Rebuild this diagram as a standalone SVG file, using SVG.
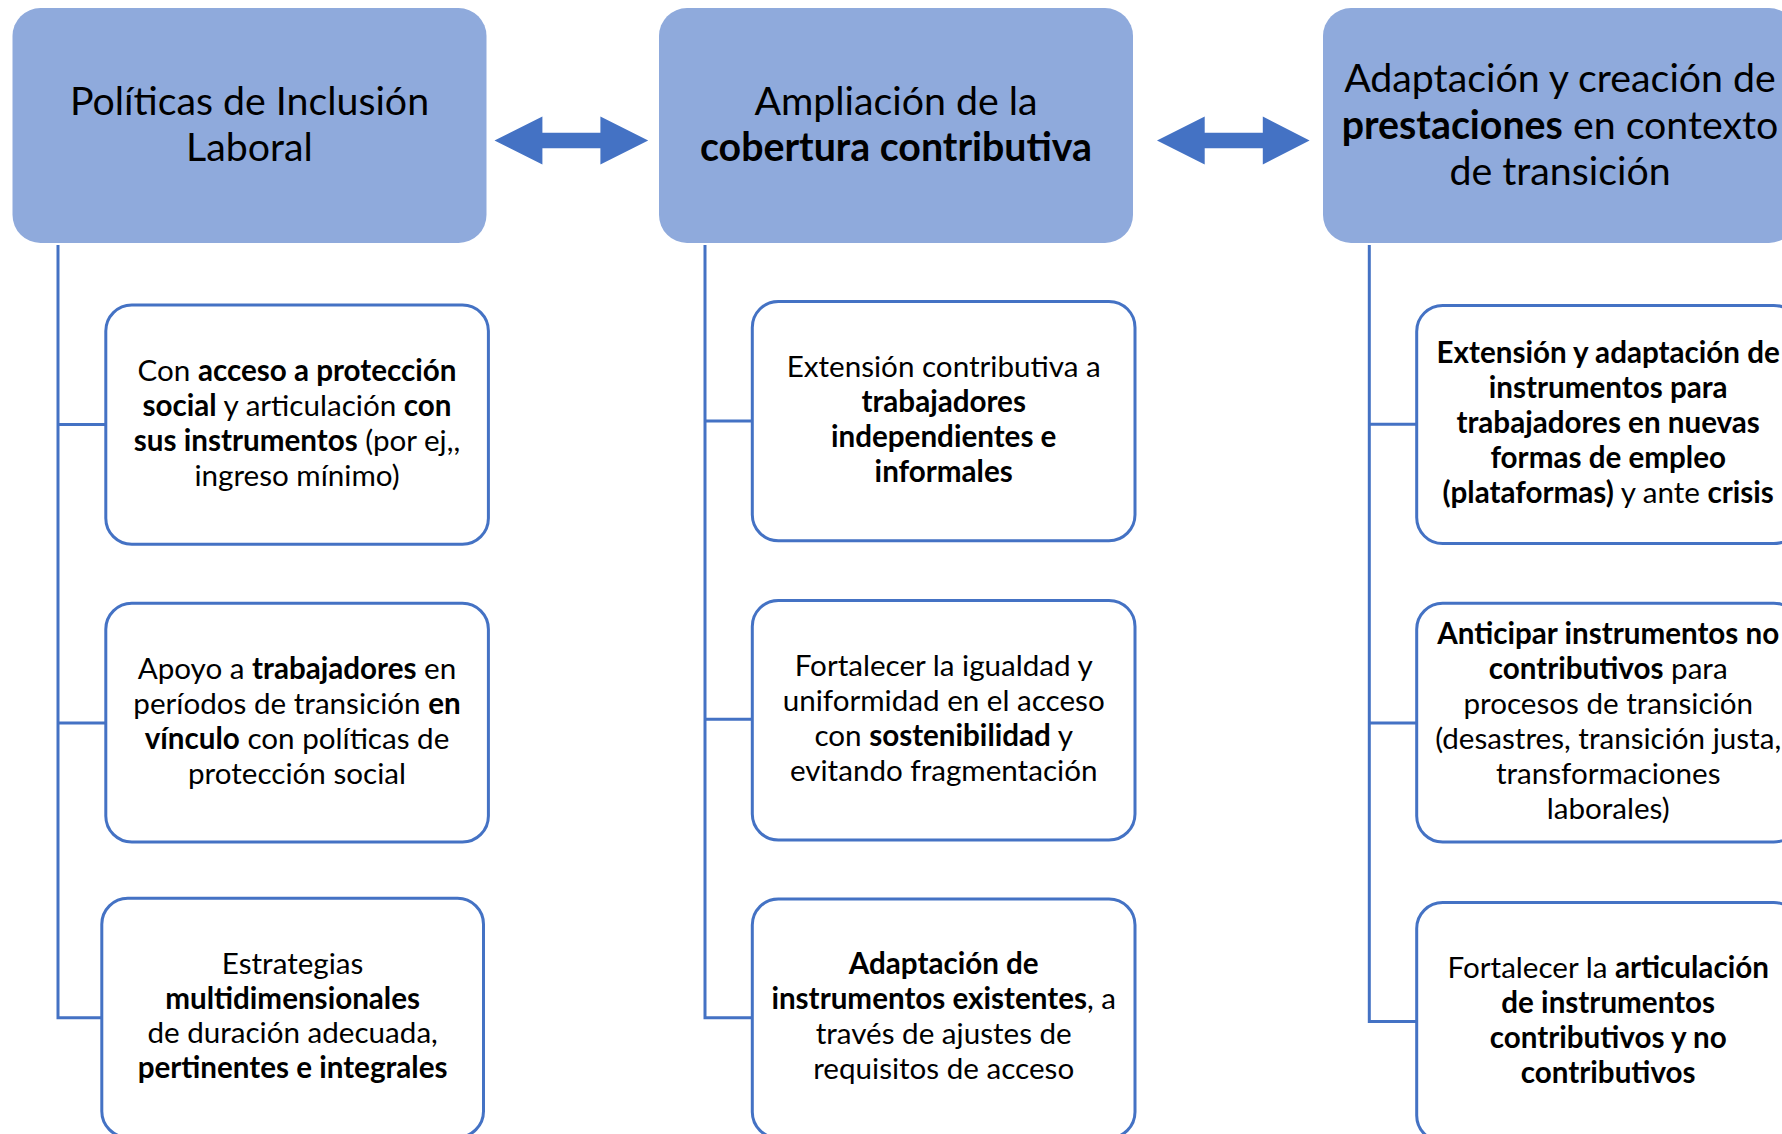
<svg xmlns="http://www.w3.org/2000/svg" width="1782" height="1134" viewBox="0 0 1782 1134">
<style>
.hdr{fill:#8FAADC;stroke:none}
.box{fill:#FFFFFF;stroke:#4472C4;stroke-width:3}
.ln{fill:none;stroke:#4472C4;stroke-width:3}
.arr{fill:#4472C4}
.ht{font-family:Lato,"Liberation Sans",sans-serif;font-size:39.3px;fill:#000;text-anchor:middle}
.bt{font-family:Lato,"Liberation Sans",sans-serif;font-size:29.6px;fill:#000;text-anchor:middle}
.b{font-weight:bold}
</style>
<g id="connectors">
<polygon class="arr" points="494.5,140.5 542.4,116.5 542.4,132.7 600.4,132.7 600.4,116.5 648.2,140.5 600.4,164.5 600.4,148.3 542.4,148.3 542.4,164.5"/>
<polygon class="arr" points="1157,140.5 1204.7,116.5 1204.7,132.7 1262.8,132.7 1262.8,116.5 1309.6,140.5 1262.8,164.5 1262.8,148.3 1204.7,148.3 1204.7,164.5"/>
<path class="ln" d="M58,245 V1017.7 H101.8 M58,424.6 H105.8 M58,722.9 H105.8"/>
<path class="ln" d="M705,245 V1017.7 H752.3 M705,421 H752.3 M705,719.3 H752.3"/>
<path class="ln" d="M1369.3,245 V1021.5 H1416.7 M1369.3,424.3 H1416.7 M1369.3,723 H1416.7"/>
</g>
<g id="h1">
<rect class="hdr" x="12.5" y="8" width="474" height="235" rx="28"/>
<text class="ht"><tspan x="249.5" y="115">Políticas de Inclusión</tspan><tspan x="249.5" y="161">Laboral</tspan></text>
</g>
<g id="h2">
<rect class="hdr" x="659" y="8" width="474" height="235" rx="28"/>
<text class="ht"><tspan x="896" y="115">Ampliación de la</tspan><tspan x="896" y="161" class="b">cobertura contributiva</tspan></text>
</g>
<g id="h3">
<rect class="hdr" x="1323" y="8" width="474" height="235" rx="28"/>
<text class="ht"><tspan x="1560" y="92">Adaptación y creación de</tspan><tspan x="1560" y="138.5"><tspan class="b">prestaciones</tspan> en contexto</tspan><tspan x="1560" y="185">de transición</tspan></text>
</g>
<g id="b11">
<rect class="box" x="105.8" y="305" width="382.6" height="239.3" rx="26"/>
<text class="bt"><tspan x="297" y="381">Con <tspan class="b">acceso a protección</tspan></tspan><tspan x="297" y="416"><tspan class="b">social</tspan> y articulación <tspan class="b">con</tspan></tspan><tspan x="297" y="451"><tspan class="b">sus instrumentos</tspan> (por ej,,</tspan><tspan x="297" y="486">ingreso mínimo)</tspan></text>
</g>
<g id="b12">
<rect class="box" x="105.8" y="603.2" width="382.6" height="238.8" rx="26"/>
<text class="bt"><tspan x="297" y="679">Apoyo a <tspan class="b">trabajadores</tspan> en</tspan><tspan x="297" y="714">períodos de transición <tspan class="b">en</tspan></tspan><tspan x="297" y="749"><tspan class="b">vínculo</tspan> con políticas de</tspan><tspan x="297" y="784">protección social</tspan></text>
</g>
<g id="b13">
<rect class="box" x="101.8" y="898.3" width="381.7" height="239" rx="26"/>
<text class="bt"><tspan x="292.6" y="974">Estrategias</tspan><tspan x="292.6" y="1009" class="b">multidimensionales</tspan><tspan x="292.6" y="1043">de duración adecuada,</tspan><tspan x="292.6" y="1078" class="b">pertinentes e integrales</tspan></text>
</g>
<g id="b21">
<rect class="box" x="752.3" y="301.4" width="382.7" height="239.3" rx="26"/>
<text class="bt"><tspan x="943.7" y="377">Extensión contributiva a</tspan><tspan x="943.7" y="412" class="b">trabajadores</tspan><tspan x="943.7" y="447" class="b">independientes e</tspan><tspan x="943.7" y="482" class="b">informales</tspan></text>
</g>
<g id="b22">
<rect class="box" x="752.3" y="600.4" width="382.7" height="239.6" rx="26"/>
<text class="bt"><tspan x="943.7" y="676">Fortalecer la igualdad y</tspan><tspan x="943.7" y="711">uniformidad en el acceso</tspan><tspan x="943.7" y="746">con <tspan class="b">sostenibilidad</tspan> y</tspan><tspan x="943.7" y="781">evitando fragmentación</tspan></text>
</g>
<g id="b23">
<rect class="box" x="752.3" y="899" width="382.7" height="239" rx="26"/>
<text class="bt"><tspan x="943.7" y="974" class="b">Adaptación de</tspan><tspan x="943.7" y="1009"><tspan class="b">instrumentos existentes</tspan>, a</tspan><tspan x="943.7" y="1044">través de ajustes de</tspan><tspan x="943.7" y="1079">requisitos de acceso</tspan></text>
</g>
<g id="b31">
<rect class="box" x="1416.7" y="305.4" width="383" height="238.2" rx="26"/>
<text class="bt"><tspan x="1608.2" y="363" class="b">Extensión y adaptación de</tspan><tspan x="1608.2" y="398" class="b">instrumentos para</tspan><tspan x="1608.2" y="433" class="b">trabajadores en nuevas</tspan><tspan x="1608.2" y="468" class="b">formas de empleo</tspan><tspan x="1608.2" y="503"><tspan class="b">(plataformas)</tspan> y ante <tspan class="b">crisis</tspan></tspan></text>
</g>
<g id="b32">
<rect class="box" x="1416.7" y="603.2" width="383" height="238.8" rx="26"/>
<text class="bt"><tspan x="1608.2" y="643.5"><tspan class="b">Anticipar instrumentos no</tspan></tspan><tspan x="1608.2" y="679"><tspan class="b">contributivos</tspan> para</tspan><tspan x="1608.2" y="714">procesos de transición</tspan><tspan x="1608.2" y="749">(desastres, transición justa,</tspan><tspan x="1608.2" y="784">transformaciones</tspan><tspan x="1608.2" y="819">laborales)</tspan></text>
</g>
<g id="b33">
<rect class="box" x="1416.7" y="902.5" width="383" height="239" rx="26"/>
<text class="bt"><tspan x="1608.2" y="978">Fortalecer la <tspan class="b">articulación</tspan></tspan><tspan x="1608.2" y="1013" class="b">de instrumentos</tspan><tspan x="1608.2" y="1048" class="b">contributivos y no</tspan><tspan x="1608.2" y="1083" class="b">contributivos</tspan></text>
</g>
</svg>
